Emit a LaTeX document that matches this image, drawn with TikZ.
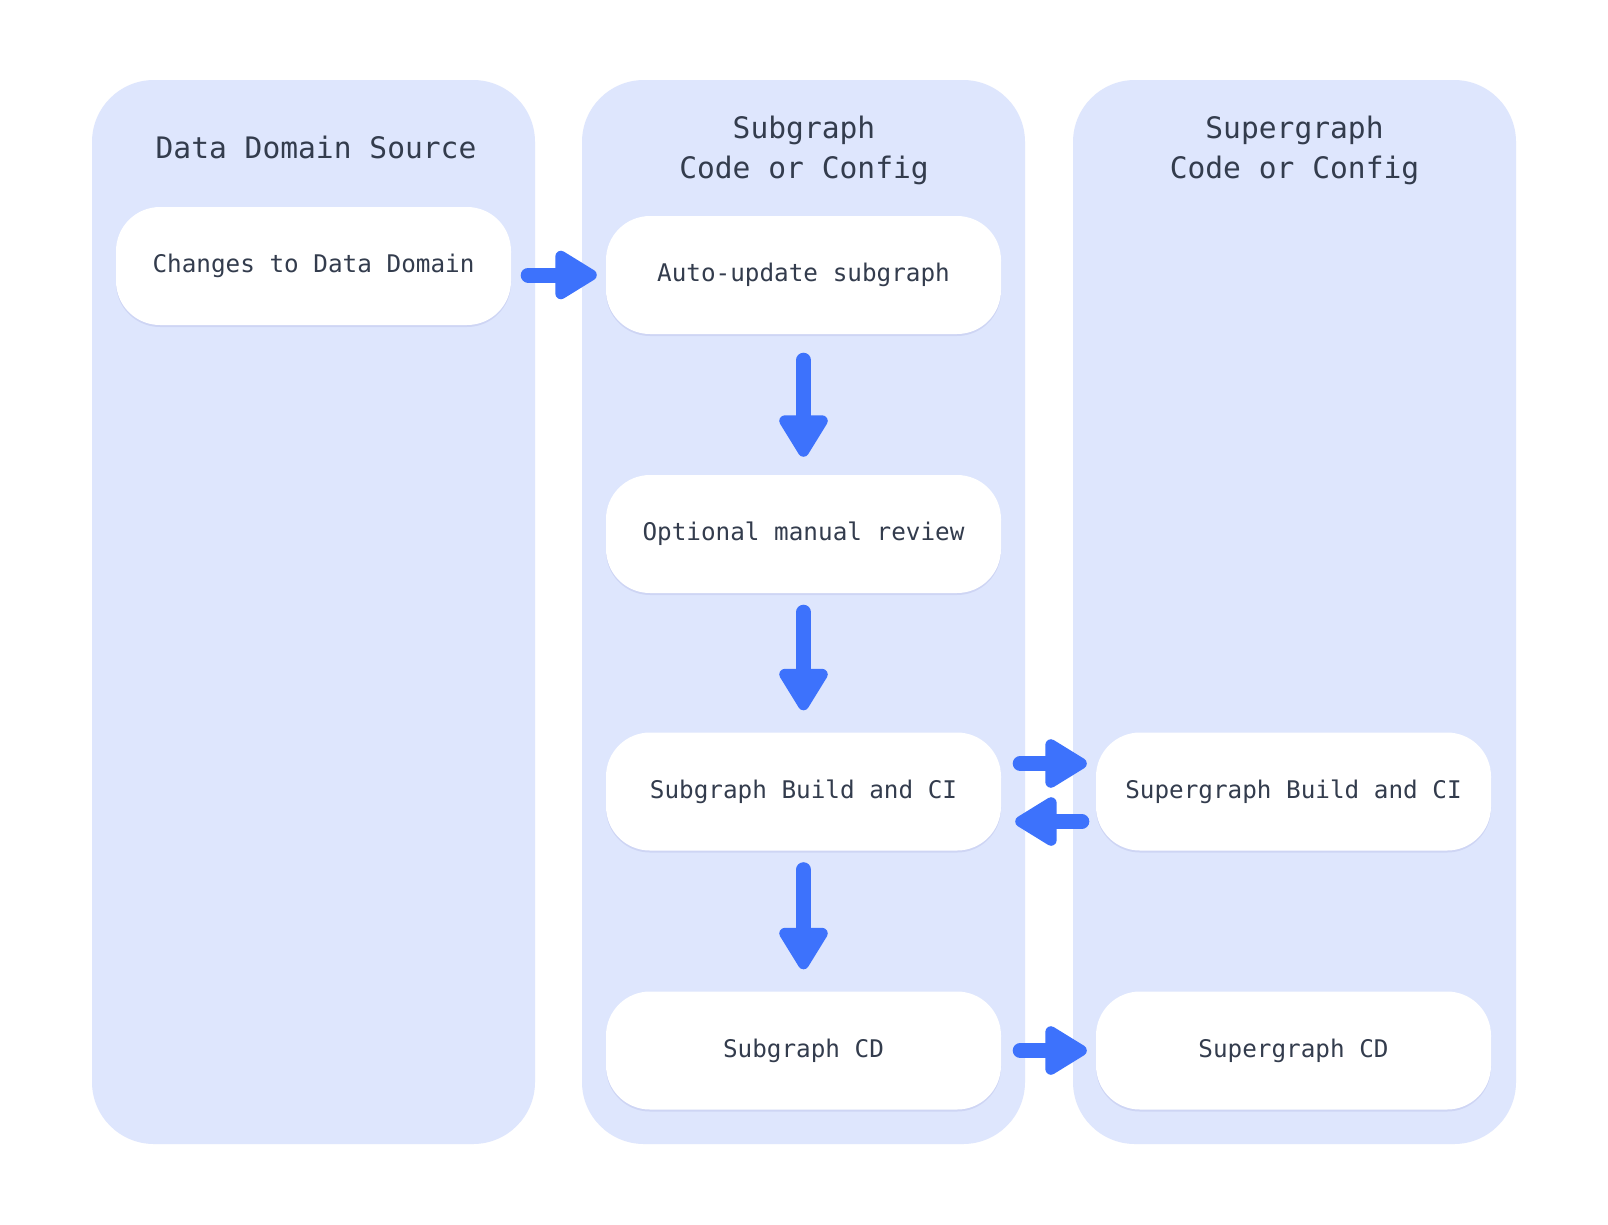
\documentclass[tikz,border=0pt]{standalone}
\usepackage{fontspec}
\newfontfamily\monof{DejaVu Sans Mono}
\usetikzlibrary{arrows.meta,shadows}
\definecolor{panelfill}{RGB}{222,230,253}
\definecolor{arrowblue}{RGB}{61,114,252}
\definecolor{txt}{RGB}{51,60,77}
\begin{document}
\begin{tikzpicture}[x=1pt,y=-1pt,
  panel/.style={fill=panelfill, rounded corners=62pt, minimum width=443pt, minimum height=1064pt, inner sep=0pt},
  stepbox/.style={fill=white, rounded corners=44pt, minimum width=395pt, minimum height=118pt, inner sep=0pt,
    text=txt, font=\monof\fontsize{24.3}{28}\selectfont,
    drop shadow={shadow xshift=0pt, shadow yshift=-2pt, opacity=0.07, fill=blue!50!black}},
  coltitle/.style={text=txt, align=center, font=\monof\fontsize{29.6}{40}\selectfont, inner sep=0pt},
  flow/.style={draw=arrowblue, line width=15pt, line cap=round,
    -{Triangle[length=47pt,width=54pt,round,line width=11pt]}}
]
\useasboundingbox (0,0) rectangle (1608,1224);
\fill[white] (0,0) rectangle (1608,1224);
% panels
\node[panel] (p1) at (313.5,612) {};
\node[panel] (p2) at (803.5,612) {};
\node[panel] (p3) at (1294.5,612) {};
% titles
\node[coltitle] (t1) at (316,147) {Data Domain Source};
\node[coltitle] (t2) at (804,150) {Subgraph\\Code or Config};
\node[coltitle] (t3) at (1294.5,150) {Supergraph\\Code or Config};
% boxes
\node[stepbox] (c1) at (313.5,266) {Changes to Data Domain};
\node[stepbox] (a1) at (803.5,275) {Auto-update subgraph};
\node[stepbox] (o1) at (803.5,534) {Optional manual review};
\node[stepbox] (sb) at (803.5,791.5) {Subgraph Build and CI};
\node[stepbox] (sc) at (803.5,1050.5) {Subgraph CD};
\node[stepbox] (spb) at (1293.5,791.5) {Supergraph Build and CI};
\node[stepbox] (spc) at (1293.5,1050.5) {Supergraph CD};
% arrows
\draw[flow, shorten <=17pt, shorten >=9pt] (c1.east |- a1.west) -- (a1.west);
\draw[flow, shorten <=26pt, shorten >=18pt] (a1.south) -- (o1.north);
\draw[flow, shorten <=19pt, shorten >=22pt] (o1.south) -- (sb.north);
\draw[flow, shorten <=19pt, shorten >=22pt] (sb.south) -- (sc.north);
\draw[flow, shorten <=19pt, shorten >=9pt] ([yshift=28pt]sb.east) -- ([yshift=28pt]spb.west);
\draw[flow, shorten <=14pt, shorten >=14pt] ([yshift=-30pt]spb.west) -- ([yshift=-30pt]sb.east);
\draw[flow, shorten <=19pt, shorten >=9pt] (sc.east) -- (spc.west);
\end{tikzpicture}
\end{document}
